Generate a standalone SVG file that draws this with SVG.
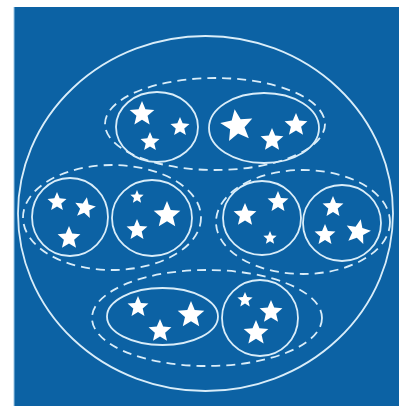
<svg xmlns="http://www.w3.org/2000/svg" xmlns:xlink="http://www.w3.org/1999/xlink" width="399" height="406" viewBox="0 0 399 406">
<style>
.ln{fill:none;stroke:#d9edf9;stroke-width:1.8}
.ds{fill:none;stroke:#d9edf9;stroke-width:1.8;stroke-dasharray:9 6}
.st{fill:#ffffff}
</style>
<defs>
<path id="star" d="M0,-1 L0.265,-0.365 L0.951,-0.309 L0.428,0.139 L0.588,0.809 L0,0.45 L-0.588,0.809 L-0.428,0.139 L-0.951,-0.309 L-0.265,-0.365 Z"/>
</defs>
<rect x="0" y="0" width="399" height="406" fill="#ffffff"/>
<rect x="14" y="7" width="385" height="399" fill="#0c62a4"/>
<line x1="14" y1="7" x2="14" y2="406" stroke="#9cc6e4" stroke-width="1"/>
<g id="universe">
<ellipse class="ln" cx="205.5" cy="213.5" rx="187.5" ry="177.5" stroke-width="2"/>
</g>
<g id="group-top">
<ellipse class="ds" cx="215" cy="124" rx="110" ry="46"/>
</g>
<g id="group-mid-left">
<ellipse class="ds" cx="112" cy="217.5" rx="89" ry="52.5"/>
</g>
<g id="group-mid-right">
<ellipse class="ds" cx="303" cy="222" rx="87" ry="52"/>
</g>
<g id="group-bottom">
<ellipse class="ds" cx="207" cy="318" rx="115" ry="48"/>
</g>
<g id="set-top-left">
<ellipse class="ln" cx="157" cy="127" rx="41" ry="35"/>
<use href="#star" class="st" transform="translate(142,114) scale(13)"/>
<use href="#star" class="st" transform="translate(180,127) scale(10)"/>
<use href="#star" class="st" transform="translate(150,142) scale(10)"/>
</g>
<g id="set-top-right">
<ellipse class="ln" cx="264" cy="128" rx="55" ry="35"/>
<use href="#star" class="st" transform="translate(237,126) rotate(-8) scale(17)"/>
<use href="#star" class="st" transform="translate(272,140) scale(12)"/>
<use href="#star" class="st" transform="translate(296,125) scale(12)"/>
</g>
<g id="set-mid-1">
<ellipse class="ln" cx="70" cy="217" rx="38" ry="39"/>
<use href="#star" class="st" transform="translate(57,202) scale(10)"/>
<use href="#star" class="st" transform="translate(85,208) rotate(10) scale(11)"/>
<use href="#star" class="st" transform="translate(69,238) scale(12)"/>
</g>
<g id="set-mid-2">
<ellipse class="ln" cx="152" cy="218" rx="40" ry="38"/>
<use href="#star" class="st" transform="translate(137,197) scale(7)"/>
<use href="#star" class="st" transform="translate(167,215) scale(14)"/>
<use href="#star" class="st" transform="translate(137,230) scale(11)"/>
</g>
<g id="set-mid-3">
<ellipse class="ln" cx="262" cy="218" rx="39" ry="37"/>
<use href="#star" class="st" transform="translate(245,215) scale(12)"/>
<use href="#star" class="st" transform="translate(278,202) scale(11)"/>
<use href="#star" class="st" transform="translate(270,238) scale(7)"/>
</g>
<g id="set-mid-4">
<ellipse class="ln" cx="342" cy="223" rx="39" ry="38"/>
<use href="#star" class="st" transform="translate(333,207) scale(11)"/>
<use href="#star" class="st" transform="translate(325,235) scale(11)"/>
<use href="#star" class="st" transform="translate(358,232) rotate(12) scale(13)"/>
</g>
<g id="set-bottom-left">
<ellipse class="ln" cx="162.5" cy="316.5" rx="55.5" ry="28.5"/>
<use href="#star" class="st" transform="translate(138,307) scale(11)"/>
<use href="#star" class="st" transform="translate(191,315) scale(14)"/>
<use href="#star" class="st" transform="translate(160,331) scale(12)"/>
</g>
<g id="set-bottom-right">
<ellipse class="ln" cx="260" cy="318" rx="38" ry="38"/>
<use href="#star" class="st" transform="translate(245,300) scale(8)"/>
<use href="#star" class="st" transform="translate(271,312) scale(12)"/>
<use href="#star" class="st" transform="translate(256,333) scale(13)"/>
</g>
</svg>
